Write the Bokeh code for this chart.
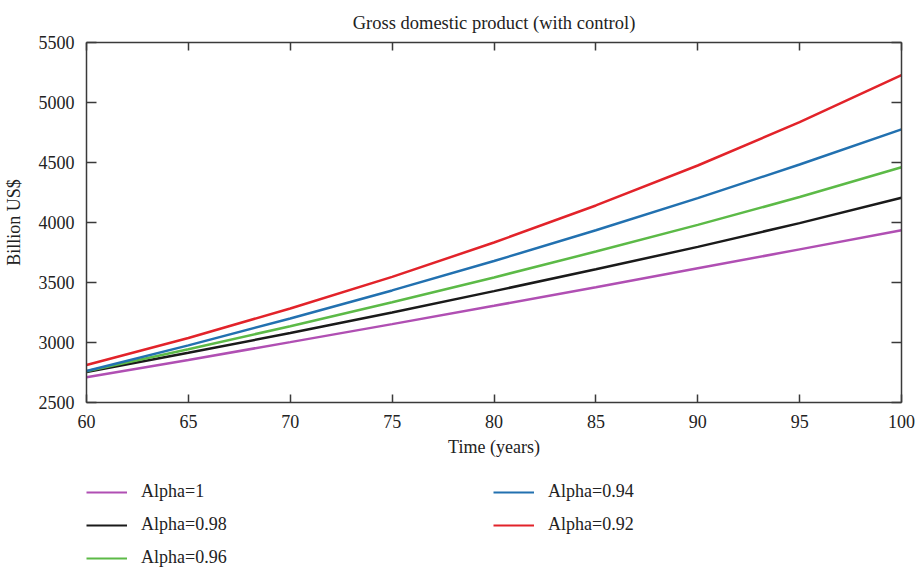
from bokeh.plotting import figure
from bokeh.layouts import column
from bokeh.models import Range1d, SingleIntervalTicker, LinearAxis, Legend, LegendItem
from bokeh.embed import file_html
from bokeh.resources import INLINE

# ---- data ----
time = [60, 65, 70, 75, 80, 85, 90, 95, 100]
alpha_1 = [2710, 2855, 3003, 3153, 3306, 3461, 3618, 3776, 3935]
alpha_098 = [2755, 2914, 3079, 3250, 3428, 3610, 3797, 3995, 4206]
alpha_096 = [2760, 2944, 3136, 3335, 3542, 3758, 3980, 4212, 4461]
alpha_094 = [2762, 2976, 3200, 3434, 3679, 3935, 4203, 4483, 4776]
alpha_092 = [2812, 3038, 3283, 3547, 3833, 4142, 4475, 4836, 5228]
labels = ["Alpha=1", "Alpha=0.98", "Alpha=0.96", "Alpha=0.94", "Alpha=0.92"]
colors = ["#b04fb3", "#1a1a1a", "#5cba47", "#2271b0", "#e2232a"]
series = [alpha_1, alpha_098, alpha_096, alpha_094, alpha_092]

FONT = "Liberation Serif"
AX = "#3a3a3a"
TXT = "#222222"

p = figure(width=916, height=470, output_backend="svg", toolbar_location=None,
           x_range=Range1d(60, 100), y_range=Range1d(2500, 5500),
           min_border_left=86, min_border_right=15, min_border_top=42, min_border_bottom=68,
           x_axis_label="Time (years)", y_axis_label="Billion US$")

p.title.text = "Gross domestic product (with control)"
p.title.align = "center"
p.title.text_font = FONT
p.title.text_font_size = "18.5px"
p.title.text_font_style = "normal"
p.title.text_color = TXT
p.title.standoff = 20

p.xgrid.visible = False
p.ygrid.visible = False
p.outline_line_color = None

def style_ticks(ax, tick_in):
    ax.major_tick_in = tick_in
    ax.major_tick_out = 0
    ax.minor_tick_in = 0
    ax.minor_tick_out = 0
    ax.axis_line_color = AX
    ax.axis_line_width = 1.5
    ax.major_tick_line_color = AX
    ax.major_tick_line_width = 1.5

for ax, interval, tin in ((p.xaxis[0], 5, 8), (p.yaxis[0], 500, 10)):
    ax.ticker = SingleIntervalTicker(interval=interval)
    style_ticks(ax, tin)
    ax.major_label_text_font = FONT
    ax.major_label_text_font_size = "18px"
    ax.major_label_text_color = TXT
    ax.axis_label_text_font = FONT
    ax.axis_label_text_font_size = "18px"
    ax.axis_label_text_font_style = "normal"
    ax.axis_label_text_color = TXT

p.xaxis[0].major_label_standoff = 12
p.xaxis[0].axis_label_standoff = 6
p.yaxis[0].major_label_standoff = 12
p.yaxis[0].axis_label_standoff = 12

for side, interval, tin in (("above", 5, 8), ("right", 500, 10)):
    ax = LinearAxis(ticker=SingleIntervalTicker(interval=interval))
    style_ticks(ax, tin)
    ax.major_label_text_font_size = "0px"
    ax.major_label_text_color = None
    ax.major_label_standoff = 0
    p.add_layout(ax, side)

for ys, c in zip(series, colors):
    p.line(time, ys, line_color=c, line_width=2.5)

# ---- legend strip below the chart (same series, drawn outside its visible range) ----
p2 = figure(width=916, height=99, output_backend="svg", toolbar_location=None,
            x_range=Range1d(0, 1), y_range=Range1d(0, 1),
            min_border_left=81, min_border_right=15, min_border_top=11, min_border_bottom=0)
p2.axis.visible = False
p2.grid.visible = False
p2.outline_line_color = None

leg_renderers = []
for ys, c in zip(series, colors):
    leg_renderers.append(p2.line(time, ys, line_color=c, line_width=2.0))

items = [LegendItem(label=labels[i], renderers=[leg_renderers[i]]) for i in range(5)]
lg = Legend(items=items, location="top_left", orientation="vertical", nrows=3)
lg.background_fill_alpha = 0
lg.border_line_color = None
lg.padding = 0
lg.margin = 0
lg.glyph_width = 41
lg.glyph_height = 20
lg.label_height = 20
lg.label_width = 340
lg.spacing = 12
lg.label_standoff = 14
lg.label_text_font = FONT
lg.label_text_font_size = "18px"
lg.label_text_color = TXT
p2.add_layout(lg, "center")

open("out.html", "w").write(file_html(column(p, p2), INLINE))
